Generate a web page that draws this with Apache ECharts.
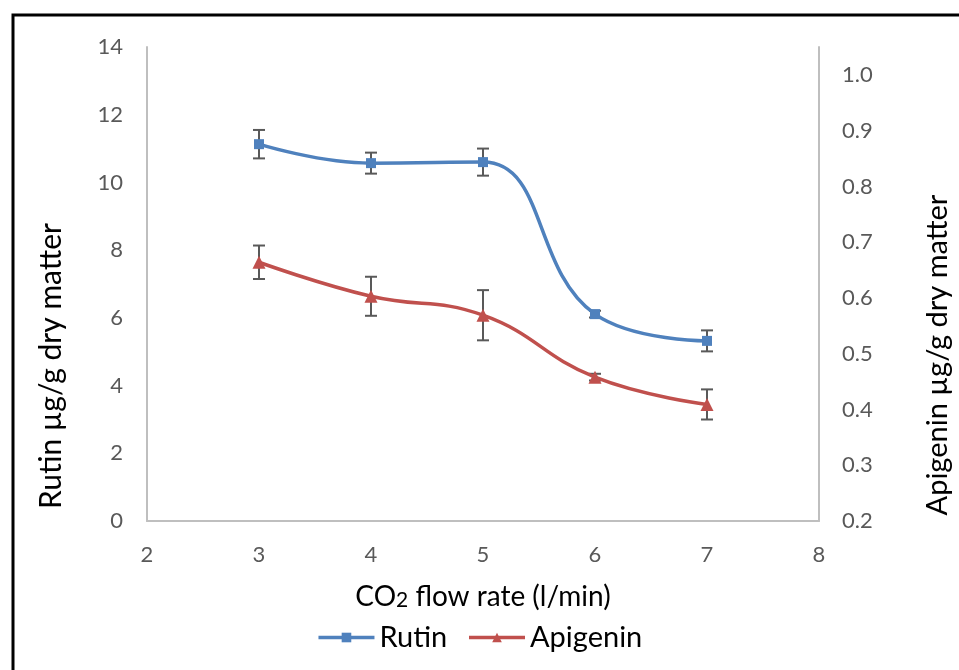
<!DOCTYPE html>
<html>
<head>
    <meta charset="utf-8">
    <script src="https://cdn.jsdelivr.net/npm/echarts@6/dist/echarts.min.js"></script>
    <style>
        html, body { margin: 0; padding: 0; background: #fff; }
        #chart { width: 959px; height: 670px; }
    </style>
</head>
<body>
<div id="chart"></div>
<script>
    // CO2 flow rate (l/min)
    var flowRates = [3, 4, 5, 6, 7];
    // Rutin, left axis
    var rutinValues = [11.13, 10.57, 10.6, 6.11, 5.32];
    var rutinErrors = [0.42, 0.31, 0.4, 0.1, 0.31];
    // Apigenin, right axis
    var apigeninValues = [0.664, 0.603, 0.569, 0.458, 0.409];
    var apigeninErrors = [0.03, 0.035, 0.045, 0.006, 0.027];

    var seriesNames = ['Rutin', 'Apigenin'];
    var textFont = 'Lato, "Noto Sans", sans-serif';

    function pairs(xs, ys) {
        return xs.map(function (x, i) { return [x, ys[i]]; });
    }

    function errorData(xs, ys, es) {
        return xs.map(function (x, i) { return [x, ys[i] - es[i], ys[i] + es[i]]; });
    }

    // draws one error bar with caps
    function renderErrorBar(params, api) {
        var lo = api.coord([api.value(0), api.value(1)]);
        var hi = api.coord([api.value(0), api.value(2)]);
        var cap = 6;
        var style = { stroke: '#595959', lineWidth: 2 };
        return {
            type: 'group',
            children: [
                { type: 'line', shape: { x1: lo[0], y1: lo[1], x2: hi[0], y2: hi[1] }, style: style },
                { type: 'line', shape: { x1: lo[0] - cap, y1: lo[1], x2: lo[0] + cap, y2: lo[1] }, style: style },
                { type: 'line', shape: { x1: hi[0] - cap, y1: hi[1], x2: hi[0] + cap, y2: hi[1] }, style: style }
            ]
        };
    }

    var chart = echarts.init(document.getElementById('chart'));

    var labelStyle = { color: '#595959', fontSize: 22, fontFamily: textFont };
    var axisLineStyle = { show: true, lineStyle: { color: '#bfbfbf', width: 2 } };

    chart.setOption({
        animation: false,
        backgroundColor: '#ffffff',
        grid: { left: 147, right: 140, top: 47, bottom: 149 },
        legend: {
            data: seriesNames,
            bottom: 13,
            left: 'center',
            itemWidth: 56,
            itemHeight: 12,
            itemGap: 20,
            lineStyle: { width: 3.5 },
            textStyle: { color: '#000', fontSize: 29, fontFamily: textFont }
        },
        xAxis: {
            type: 'value',
            min: 2,
            max: 8,
            interval: 1,
            axisLine: axisLineStyle,
            axisTick: { show: false },
            splitLine: { show: false },
            axisLabel: Object.assign({ margin: 23 }, labelStyle),
            name: 'CO{sub|2} flow rate (l/min)',
            nameLocation: 'middle',
            nameGap: 62,
            nameTextStyle: {
                color: '#000', fontSize: 28, fontFamily: textFont,
                rich: { sub: { fontSize: 21, fontFamily: textFont, color: '#000', verticalAlign: 'bottom', padding: [6, 0, 0, 0] } }
            }
        },
        yAxis: [
            {
                type: 'value',
                min: 0,
                max: 14,
                interval: 2,
                axisLine: axisLineStyle,
                axisTick: { show: false },
                splitLine: { show: false },
                axisLabel: Object.assign({ margin: 24 }, labelStyle)
            },
            {
                type: 'value',
                position: 'right',
                min: 0.2,
                max: 1.05,
                interval: 0.1,
                axisLine: axisLineStyle,
                axisTick: { show: false },
                splitLine: { show: false },
                axisLabel: Object.assign({
                    margin: 23,
                    showMaxLabel: false,
                    formatter: function (v) { return v.toFixed(1); }
                }, labelStyle)
            }
        ],
        graphic: [
            {
                type: 'polyline',
                shape: { points: [[13, 670], [13, 15], [959, 15]] },
                style: { stroke: '#000', lineWidth: 3, fill: null }
            },
            {
                type: 'text',
                x: 51, y: 366,
                rotation: Math.PI / 2,
                style: {
                    text: 'Rutin µg/g dry matter',
                    fill: '#000', fontSize: 30, fontFamily: textFont,
                    align: 'center', verticalAlign: 'middle'
                }
            },
            {
                type: 'text',
                x: 938, y: 355,
                rotation: Math.PI / 2,
                style: {
                    text: 'Apigenin µg/g dry matter',
                    fill: '#000', fontSize: 29, fontFamily: textFont,
                    align: 'center', verticalAlign: 'middle'
                }
            }
        ],
        series: [
            {
                name: 'Rutin',
                type: 'line',
                yAxisIndex: 0,
                data: pairs(flowRates, rutinValues),
                smooth: 0.45,
                symbol: 'rect',
                symbolSize: 10,
                itemStyle: { color: '#4f81bd' },
                lineStyle: { color: '#4f81bd', width: 3.5 },
                z: 3
            },
            {
                name: 'Apigenin',
                type: 'line',
                yAxisIndex: 1,
                data: pairs(flowRates, apigeninValues),
                smooth: 0.45,
                symbol: 'triangle',
                symbolSize: 13,
                itemStyle: { color: '#c0504d' },
                lineStyle: { color: '#c0504d', width: 3.5 },
                z: 3
            },
            {
                type: 'custom',
                yAxisIndex: 0,
                data: errorData(flowRates, rutinValues, rutinErrors),
                renderItem: renderErrorBar,
                z: 2
            },
            {
                type: 'custom',
                yAxisIndex: 1,
                data: errorData(flowRates, apigeninValues, apigeninErrors),
                renderItem: renderErrorBar,
                z: 2
            }
        ]
    });
</script>
</body>
</html>
